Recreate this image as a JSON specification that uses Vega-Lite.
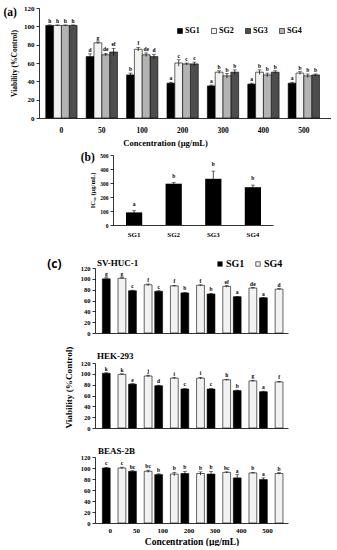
{
  "$schema": "https://vega.github.io/schema/vega-lite/v6.json",
  "padding": {"left": 3, "top": 4, "right": 0, "bottom": 0},
  "config": {
    "view": {"stroke": null},
    "font": "Liberation Serif",
    "axis": {"labelFontWeight": "bold", "titleFontWeight": "bold", "labelColor": "black", "titleColor": "black", "domainColor": "black", "tickColor": "black", "grid": false, "labelFont": "Liberation Serif", "titleFont": "Liberation Serif", "domainWidth": 0.8, "tickWidth": 0.8},
    "legend": {"labelFont": "Liberation Serif", "labelFontWeight": "bold", "labelColor": "black"},
    "title": {"font": "Liberation Serif", "fontWeight": "bold", "color": "black"}
  },
  "datasets": {
    "a": [
      {"conc": "0", "group": "SG1", "value": 101, "lo": 100.5, "hi": 101.5, "letter": "h"},
      {"conc": "0", "group": "SG2", "value": 101, "lo": 100.5, "hi": 101.5, "letter": "h"},
      {"conc": "0", "group": "SG3", "value": 101, "lo": 100.5, "hi": 101.5, "letter": "h"},
      {"conc": "0", "group": "SG4", "value": 101, "lo": 100.5, "hi": 101.5, "letter": "h"},
      {"conc": "50", "group": "SG1", "value": 67, "lo": 64, "hi": 70, "letter": "d"},
      {"conc": "50", "group": "SG2", "value": 82, "lo": 81, "hi": 83, "letter": "g"},
      {"conc": "50", "group": "SG3", "value": 72, "lo": 68, "hi": 76, "letter": "ef"},
      {"conc": "50", "group": "SG4", "value": 69, "lo": 67.5, "hi": 70.5, "letter": "de"},
      {"conc": "100", "group": "SG1", "value": 47, "lo": 45, "hi": 49, "letter": "b"},
      {"conc": "100", "group": "SG2", "value": 75, "lo": 73, "hi": 77, "letter": "f"},
      {"conc": "100", "group": "SG3", "value": 67, "lo": 64.5, "hi": 69.5, "letter": "d"},
      {"conc": "100", "group": "SG4", "value": 69, "lo": 67, "hi": 71, "letter": "de"},
      {"conc": "200", "group": "SG1", "value": 38, "lo": 37, "hi": 39, "letter": "a"},
      {"conc": "200", "group": "SG2", "value": 60, "lo": 56.5, "hi": 63.5, "letter": "c"},
      {"conc": "200", "group": "SG3", "value": 59, "lo": 57, "hi": 61, "letter": "c"},
      {"conc": "200", "group": "SG4", "value": 59, "lo": 58, "hi": 60, "letter": "c"},
      {"conc": "300", "group": "SG1", "value": 35, "lo": 34, "hi": 36, "letter": "a"},
      {"conc": "300", "group": "SG2", "value": 50, "lo": 48.5, "hi": 51.5, "letter": "b"},
      {"conc": "300", "group": "SG3", "value": 50, "lo": 47.5, "hi": 52.5, "letter": "b"},
      {"conc": "300", "group": "SG4", "value": 46, "lo": 43.5, "hi": 48.5, "letter": "b"},
      {"conc": "400", "group": "SG1", "value": 37, "lo": 36, "hi": 38, "letter": "a"},
      {"conc": "400", "group": "SG2", "value": 50, "lo": 47.5, "hi": 52.5, "letter": "b"},
      {"conc": "400", "group": "SG3", "value": 50, "lo": 48.5, "hi": 51.5, "letter": "b"},
      {"conc": "400", "group": "SG4", "value": 47, "lo": 45, "hi": 49, "letter": "b"},
      {"conc": "500", "group": "SG1", "value": 38, "lo": 37, "hi": 39, "letter": "a"},
      {"conc": "500", "group": "SG2", "value": 49, "lo": 47.5, "hi": 50.5, "letter": "b"},
      {"conc": "500", "group": "SG3", "value": 47, "lo": 46, "hi": 48, "letter": "b"},
      {"conc": "500", "group": "SG4", "value": 46, "lo": 44, "hi": 48, "letter": "b"}
    ],
    "b": [
      {"group": "SG1", "value": 90, "lo": 78, "hi": 102, "letter": "a"},
      {"group": "SG2", "value": 295, "lo": 287, "hi": 303, "letter": "b"},
      {"group": "SG3", "value": 330, "lo": 275, "hi": 385, "letter": "b"},
      {"group": "SG4", "value": 270, "lo": 255, "hi": 285, "letter": "b"}
    ],
    "c1": [
      {"conc": "0", "group": "SG1", "value": 100, "lo": 98, "hi": 102, "letter": "g"},
      {"conc": "0", "group": "SG4", "value": 101, "lo": 100, "hi": 102, "letter": "g"},
      {"conc": "50", "group": "SG1", "value": 78, "lo": 77, "hi": 79, "letter": "c"},
      {"conc": "50", "group": "SG4", "value": 89, "lo": 87.5, "hi": 90.5, "letter": "f"},
      {"conc": "100", "group": "SG1", "value": 77, "lo": 76, "hi": 78, "letter": "c"},
      {"conc": "100", "group": "SG4", "value": 87, "lo": 86, "hi": 88, "letter": "f"},
      {"conc": "200", "group": "SG1", "value": 74, "lo": 73, "hi": 75, "letter": "b"},
      {"conc": "200", "group": "SG4", "value": 88, "lo": 87, "hi": 89, "letter": "f"},
      {"conc": "300", "group": "SG1", "value": 72, "lo": 71, "hi": 73, "letter": "b"},
      {"conc": "300", "group": "SG4", "value": 86, "lo": 84.5, "hi": 87.5, "letter": "ef"},
      {"conc": "400", "group": "SG1", "value": 67, "lo": 66.5, "hi": 67.5, "letter": "a"},
      {"conc": "400", "group": "SG4", "value": 83, "lo": 82, "hi": 84, "letter": "de"},
      {"conc": "500", "group": "SG1", "value": 65, "lo": 64.5, "hi": 65.5, "letter": "a"},
      {"conc": "500", "group": "SG4", "value": 81, "lo": 80, "hi": 82, "letter": "d"}
    ],
    "c2": [
      {"conc": "0", "group": "SG1", "value": 101, "lo": 100, "hi": 102, "letter": "k"},
      {"conc": "0", "group": "SG4", "value": 99, "lo": 98, "hi": 100, "letter": "k"},
      {"conc": "50", "group": "SG1", "value": 81, "lo": 80, "hi": 82, "letter": "e"},
      {"conc": "50", "group": "SG4", "value": 96, "lo": 94.5, "hi": 97.5, "letter": "j"},
      {"conc": "100", "group": "SG1", "value": 78, "lo": 77, "hi": 79, "letter": "d"},
      {"conc": "100", "group": "SG4", "value": 92, "lo": 91, "hi": 93, "letter": "i"},
      {"conc": "200", "group": "SG1", "value": 72, "lo": 71, "hi": 73, "letter": "c"},
      {"conc": "200", "group": "SG4", "value": 92, "lo": 90.5, "hi": 93.5, "letter": "i"},
      {"conc": "300", "group": "SG1", "value": 72, "lo": 71, "hi": 73, "letter": "c"},
      {"conc": "300", "group": "SG4", "value": 89, "lo": 88, "hi": 90, "letter": "h"},
      {"conc": "400", "group": "SG1", "value": 69, "lo": 68, "hi": 70, "letter": "b"},
      {"conc": "400", "group": "SG4", "value": 87, "lo": 86, "hi": 88, "letter": "g"},
      {"conc": "500", "group": "SG1", "value": 67, "lo": 66, "hi": 68, "letter": "a"},
      {"conc": "500", "group": "SG4", "value": 85, "lo": 84, "hi": 86, "letter": "f"}
    ],
    "c3": [
      {"conc": "0", "group": "SG1", "value": 100, "lo": 99, "hi": 101, "letter": "c"},
      {"conc": "0", "group": "SG4", "value": 100, "lo": 98.5, "hi": 101.5, "letter": "c"},
      {"conc": "50", "group": "SG1", "value": 94, "lo": 93, "hi": 95, "letter": "bc"},
      {"conc": "50", "group": "SG4", "value": 94, "lo": 92, "hi": 96, "letter": "bc"},
      {"conc": "100", "group": "SG1", "value": 88, "lo": 86.5, "hi": 89.5, "letter": "b"},
      {"conc": "100", "group": "SG4", "value": 89, "lo": 86, "hi": 92, "letter": "b"},
      {"conc": "200", "group": "SG1", "value": 90, "lo": 86, "hi": 94, "letter": "b"},
      {"conc": "200", "group": "SG4", "value": 90, "lo": 87, "hi": 93, "letter": "b"},
      {"conc": "300", "group": "SG1", "value": 89, "lo": 84, "hi": 94, "letter": "b"},
      {"conc": "300", "group": "SG4", "value": 92, "lo": 91, "hi": 93, "letter": "bc"},
      {"conc": "400", "group": "SG1", "value": 82, "lo": 76, "hi": 88, "letter": "a"},
      {"conc": "400", "group": "SG4", "value": 91, "lo": 90, "hi": 92, "letter": "b"},
      {"conc": "500", "group": "SG1", "value": 79, "lo": 76, "hi": 82, "letter": "a"},
      {"conc": "500", "group": "SG4", "value": 90, "lo": 88.5, "hi": 91.5, "letter": "b"}
    ]
  },
  "resolve": {"scale": {"fill": "independent"}, "legend": {"fill": "independent"}},
  "spacing": 4,
  "vconcat": [
    {
      "data": {"name": "a"},
      "width": 292, "height": 110,
      "title": {"text": "(a)", "anchor": "start", "frame": "bounds", "fontSize": 11.5, "offset": 0, "dy": 14, "dx": -7},
      "encoding": {
        "x": {"field": "conc", "type": "ordinal", "sort": ["0", "50", "100", "200", "300", "400", "500"], "scale": {"paddingInner": 0.225, "paddingOuter": 0.226, "align": 0.37}, "axis": {"labelAngle": 0, "labelFontSize": 7.5, "ticks": false, "labelPadding": 8, "titleFontSize": 8.5, "titlePadding": 5, "titleX": 126}, "title": "Concentration (µg/mL)"},
        "xOffset": {"field": "group", "type": "nominal", "sort": ["SG1", "SG2", "SG3", "SG4"]}
      },
      "layer": [
        {"mark": {"type": "bar", "stroke": "black", "strokeWidth": 0.6},
         "encoding": {
           "y": {"field": "value", "type": "quantitative", "scale": {"domain": [0, 120]}, "axis": {"values": [0, 20, 40, 60, 80, 100, 120], "labelFontSize": 7, "tickSize": 3, "labelPadding": 2, "titleFontSize": 7.5, "titlePadding": 5}, "title": "Viability (%Control)"},
           "fill": {"field": "group", "type": "nominal", "scale": {"domain": ["SG1", "SG2", "SG3", "SG4"], "range": ["#000000", "#f2f2f2", "#4d4d4d", "#b3b3b3"]},
             "legend": {"orient": "none", "legendX": 137, "legendY": 19, "direction": "horizontal", "title": null, "symbolType": "square", "symbolSize": 25, "symbolStrokeColor": "black", "symbolStrokeWidth": 0.6, "labelFontSize": 8, "columnPadding": 10, "labelOffset": 1}}
         }},
        {"mark": {"type": "rule", "color": "black", "strokeWidth": 0.7},
         "encoding": {"y": {"field": "lo", "type": "quantitative", "scale": {"domain": [0, 120]}, "axis": {"values": [0, 20, 40, 60, 80, 100, 120], "labelFontSize": 7, "tickSize": 3, "labelPadding": 2, "titleFontSize": 7.5, "titlePadding": 5}, "title": "Viability (%Control)"}, "y2": {"field": "hi"}}},
        {"mark": {"type": "tick", "color": "black", "size": 4, "thickness": 0.7, "orient": "horizontal"},
         "encoding": {"y": {"field": "hi", "type": "quantitative", "scale": {"domain": [0, 120]}, "axis": {"values": [0, 20, 40, 60, 80, 100, 120], "labelFontSize": 7, "tickSize": 3, "labelPadding": 2, "titleFontSize": 7.5, "titlePadding": 5}, "title": "Viability (%Control)"}}},
        {"mark": {"type": "text", "color": "black", "fontSize": 5.5, "fontWeight": "bold", "font": "Liberation Serif", "baseline": "bottom", "dy": -1},
         "encoding": {"y": {"field": "hi", "type": "quantitative", "scale": {"domain": [0, 120]}, "axis": {"values": [0, 20, 40, 60, 80, 100, 120], "labelFontSize": 7, "tickSize": 3, "labelPadding": 2, "titleFontSize": 7.5, "titlePadding": 5}, "title": "Viability (%Control)"}, "text": {"field": "letter"}}}
      ]
    },
    {
      "spacing": 0,
      "hconcat": [
        {"data": {"values": [{}]}, "width": 41, "height": 1, "mark": {"type": "rule", "opacity": 0}, "encoding": {}},
        {
          "data": {"name": "b"},
          "width": 160, "height": 70,
          "title": {"text": "(b)", "anchor": "start", "frame": "bounds", "fontSize": 11.5, "offset": 0, "dy": 10, "dx": -9},
          "encoding": {
            "x": {"field": "group", "type": "nominal", "sort": ["SG1", "SG2", "SG3", "SG4"], "scale": {"paddingInner": 0.59, "paddingOuter": 0.315, "align": 0.52}, "axis": {"labelAngle": 0, "labelFontSize": 7, "ticks": false, "labelPadding": 5, "titleColor": "transparent", "titleFontSize": 10, "titlePadding": 6.5}, "title": "x"}
          },
          "layer": [
            {"mark": {"type": "bar", "color": "black"},
             "encoding": {"y": {"field": "value", "type": "quantitative", "scale": {"domain": [0, 500]}, "axis": {"values": [0, 100, 200, 300, 400, 500], "labelFontSize": 5.5, "tickSize": 3, "labelPadding": 2, "titleFontSize": 6.5, "titlePadding": 4}, "title": "IC₅₀ (µg/mL)"}}},
            {"mark": {"type": "rule", "color": "black", "strokeWidth": 0.7},
             "encoding": {"y": {"field": "lo", "type": "quantitative", "scale": {"domain": [0, 500]}, "axis": {"values": [0, 100, 200, 300, 400, 500], "labelFontSize": 5.5, "tickSize": 3, "labelPadding": 2, "titleFontSize": 6.5, "titlePadding": 4}, "title": "IC₅₀ (µg/mL)"}, "y2": {"field": "hi"}}},
            {"mark": {"type": "tick", "color": "black", "size": 4, "thickness": 0.7, "orient": "horizontal"},
             "encoding": {"y": {"field": "hi", "type": "quantitative", "scale": {"domain": [0, 500]}, "axis": {"values": [0, 100, 200, 300, 400, 500], "labelFontSize": 5.5, "tickSize": 3, "labelPadding": 2, "titleFontSize": 6.5, "titlePadding": 4}, "title": "IC₅₀ (µg/mL)"}}},
            {"mark": {"type": "text", "color": "black", "fontSize": 5.5, "fontWeight": "bold", "font": "Liberation Serif", "baseline": "bottom", "dy": -4},
             "encoding": {"y": {"field": "hi", "type": "quantitative", "scale": {"domain": [0, 500]}, "axis": {"values": [0, 100, 200, 300, 400, 500], "labelFontSize": 5.5, "tickSize": 3, "labelPadding": 2, "titleFontSize": 6.5, "titlePadding": 4}, "title": "IC₅₀ (µg/mL)"}, "text": {"field": "letter"}}}
          ]
        }
      ]
    },
    {
      "spacing": 0,
      "hconcat": [
        {"data": {"values": [{}]}, "width": 8, "height": 1, "mark": {"type": "rule", "opacity": 0}, "encoding": {}},
        {
          "title": {"text": "(c)", "anchor": "start", "fontSize": 12, "font": "Open Sans", "offset": 0, "dy": 12.5, "dx": -17},
          "spacing": 9,
          "resolve": {"scale": {"fill": "independent"}, "legend": {"fill": "independent"}},
          "vconcat": [
            {
              "data": {"name": "c1"},
              "width": 193, "height": 65,
              "title": {"text": "SV-HUC-1", "anchor": "start", "frame": "group", "fontSize": 9, "offset": 2, "dy": 10.5, "dx": 2},
              "encoding": {
                "x": {"field": "conc", "type": "ordinal", "sort": ["0", "50", "100", "200", "300", "400", "500"], "scale": {"paddingInner": 0.39, "paddingOuter": 0.38, "align": 0.37}, "axis": {"labels": false, "ticks": false}, "title": null},
                "xOffset": {"field": "group", "type": "nominal", "sort": ["SG1", "SG4"]}
              },
              "layer": [
                {"mark": {"type": "bar", "stroke": "black", "strokeWidth": 0.6},
                 "encoding": {
                   "y": {"field": "value", "type": "quantitative", "scale": {"domain": [0, 120]}, "axis": {"values": [0, 20, 40, 60, 80, 100, 120], "labelFontSize": 6.5, "tickSize": 3, "labelPadding": 2}, "title": null},
                   "fill": {"field": "group", "type": "nominal", "scale": {"domain": ["SG1", "SG4"], "range": ["#000000", "#f2f2f2"]},
                     "legend": {"orient": "none", "legendX": 120, "legendY": -9, "direction": "horizontal", "title": null, "symbolType": "square", "symbolSize": 20, "symbolStrokeColor": "black", "symbolStrokeWidth": 0.6, "labelFontSize": 10, "columnPadding": 8, "labelOffset": 1}}
                 }},
                {"mark": {"type": "rule", "color": "black", "strokeWidth": 0.7},
                 "encoding": {"y": {"field": "lo", "type": "quantitative", "scale": {"domain": [0, 120]}, "axis": {"values": [0, 20, 40, 60, 80, 100, 120], "labelFontSize": 6.5, "tickSize": 3, "labelPadding": 2}, "title": null}, "y2": {"field": "hi"}}},
                {"mark": {"type": "tick", "color": "black", "size": 4, "thickness": 0.7, "orient": "horizontal"},
                 "encoding": {"y": {"field": "hi", "type": "quantitative", "scale": {"domain": [0, 120]}, "axis": {"values": [0, 20, 40, 60, 80, 100, 120], "labelFontSize": 6.5, "tickSize": 3, "labelPadding": 2}, "title": null}}},
                {"mark": {"type": "text", "color": "black", "fontSize": 5.5, "fontWeight": "bold", "font": "Liberation Serif", "baseline": "bottom", "dy": -1},
                 "encoding": {"y": {"field": "hi", "type": "quantitative", "scale": {"domain": [0, 120]}, "axis": {"values": [0, 20, 40, 60, 80, 100, 120], "labelFontSize": 6.5, "tickSize": 3, "labelPadding": 2}, "title": null}, "text": {"field": "letter"}}}
              ]
            },
            {
              "data": {"name": "c2"},
              "width": 193, "height": 65,
              "title": {"text": "HEK-293", "anchor": "start", "frame": "group", "fontSize": 9, "offset": 3, "dy": 17.5, "dx": 2},
              "encoding": {
                "x": {"field": "conc", "type": "ordinal", "sort": ["0", "50", "100", "200", "300", "400", "500"], "scale": {"paddingInner": 0.39, "paddingOuter": 0.38, "align": 0.37}, "axis": {"labelColor": "transparent", "labelFontSize": 7, "labelAngle": 0, "ticks": false, "labelPadding": 3}, "title": null},
                "xOffset": {"field": "group", "type": "nominal", "sort": ["SG1", "SG4"]}
              },
              "layer": [
                {"mark": {"type": "bar", "stroke": "black", "strokeWidth": 0.6},
                 "encoding": {
                   "y": {"field": "value", "type": "quantitative", "scale": {"domain": [0, 120]}, "axis": {"values": [0, 20, 40, 60, 80, 100, 120], "labelFontSize": 6.5, "tickSize": 3, "labelPadding": 2, "titleFontSize": 9.2, "titlePadding": 7, "titleAnchor": "start"}, "title": "Viability (%Control)"},
                   "fill": {"field": "group", "type": "nominal", "scale": {"domain": ["SG1", "SG4"], "range": ["#000000", "#f2f2f2"]}, "legend": null}
                 }},
                {"mark": {"type": "rule", "color": "black", "strokeWidth": 0.7},
                 "encoding": {"y": {"field": "lo", "type": "quantitative", "scale": {"domain": [0, 120]}, "axis": {"values": [0, 20, 40, 60, 80, 100, 120], "labelFontSize": 6.5, "tickSize": 3, "labelPadding": 2, "titleFontSize": 9.2, "titlePadding": 7, "titleAnchor": "start"}, "title": "Viability (%Control)"}, "y2": {"field": "hi"}}},
                {"mark": {"type": "tick", "color": "black", "size": 4, "thickness": 0.7, "orient": "horizontal"},
                 "encoding": {"y": {"field": "hi", "type": "quantitative", "scale": {"domain": [0, 120]}, "axis": {"values": [0, 20, 40, 60, 80, 100, 120], "labelFontSize": 6.5, "tickSize": 3, "labelPadding": 2, "titleFontSize": 9.2, "titlePadding": 7, "titleAnchor": "start"}, "title": "Viability (%Control)"}}},
                {"mark": {"type": "text", "color": "black", "fontSize": 5.5, "fontWeight": "bold", "font": "Liberation Serif", "baseline": "bottom", "dy": -1},
                 "encoding": {"y": {"field": "hi", "type": "quantitative", "scale": {"domain": [0, 120]}, "axis": {"values": [0, 20, 40, 60, 80, 100, 120], "labelFontSize": 6.5, "tickSize": 3, "labelPadding": 2, "titleFontSize": 9.2, "titlePadding": 7, "titleAnchor": "start"}, "title": "Viability (%Control)"}, "text": {"field": "letter"}}}
              ]
            },
            {
              "data": {"name": "c3"},
              "width": 193, "height": 66,
              "title": {"text": "BEAS-2B", "anchor": "start", "frame": "group", "fontSize": 9, "offset": 0, "dy": 2, "dx": 3},
              "encoding": {
                "x": {"field": "conc", "type": "ordinal", "sort": ["0", "50", "100", "200", "300", "400", "500"], "scale": {"paddingInner": 0.39, "paddingOuter": 0.38, "align": 0.37}, "axis": {"labelFontSize": 7, "labelAngle": 0, "ticks": false, "labelPadding": 3, "titleFontSize": 9.5, "titlePadding": 3}, "title": "Concentration (µg/mL)"},
                "xOffset": {"field": "group", "type": "nominal", "sort": ["SG1", "SG4"]}
              },
              "layer": [
                {"mark": {"type": "bar", "stroke": "black", "strokeWidth": 0.6},
                 "encoding": {
                   "y": {"field": "value", "type": "quantitative", "scale": {"domain": [0, 120]}, "axis": {"values": [0, 20, 40, 60, 80, 100, 120], "labelFontSize": 6.5, "tickSize": 3, "labelPadding": 2}, "title": null},
                   "fill": {"field": "group", "type": "nominal", "scale": {"domain": ["SG1", "SG4"], "range": ["#000000", "#f2f2f2"]}, "legend": null}
                 }},
                {"mark": {"type": "rule", "color": "black", "strokeWidth": 0.7},
                 "encoding": {"y": {"field": "lo", "type": "quantitative", "scale": {"domain": [0, 120]}, "axis": {"values": [0, 20, 40, 60, 80, 100, 120], "labelFontSize": 6.5, "tickSize": 3, "labelPadding": 2}, "title": null}, "y2": {"field": "hi"}}},
                {"mark": {"type": "tick", "color": "black", "size": 4, "thickness": 0.7, "orient": "horizontal"},
                 "encoding": {"y": {"field": "hi", "type": "quantitative", "scale": {"domain": [0, 120]}, "axis": {"values": [0, 20, 40, 60, 80, 100, 120], "labelFontSize": 6.5, "tickSize": 3, "labelPadding": 2}, "title": null}}},
                {"mark": {"type": "text", "color": "black", "fontSize": 5.5, "fontWeight": "bold", "font": "Liberation Serif", "baseline": "bottom", "dy": -1},
                 "encoding": {"y": {"field": "hi", "type": "quantitative", "scale": {"domain": [0, 120]}, "axis": {"values": [0, 20, 40, 60, 80, 100, 120], "labelFontSize": 6.5, "tickSize": 3, "labelPadding": 2}, "title": null}, "text": {"field": "letter"}}}
              ]
            }
          ]
        }
      ]
    }
  ]
}
